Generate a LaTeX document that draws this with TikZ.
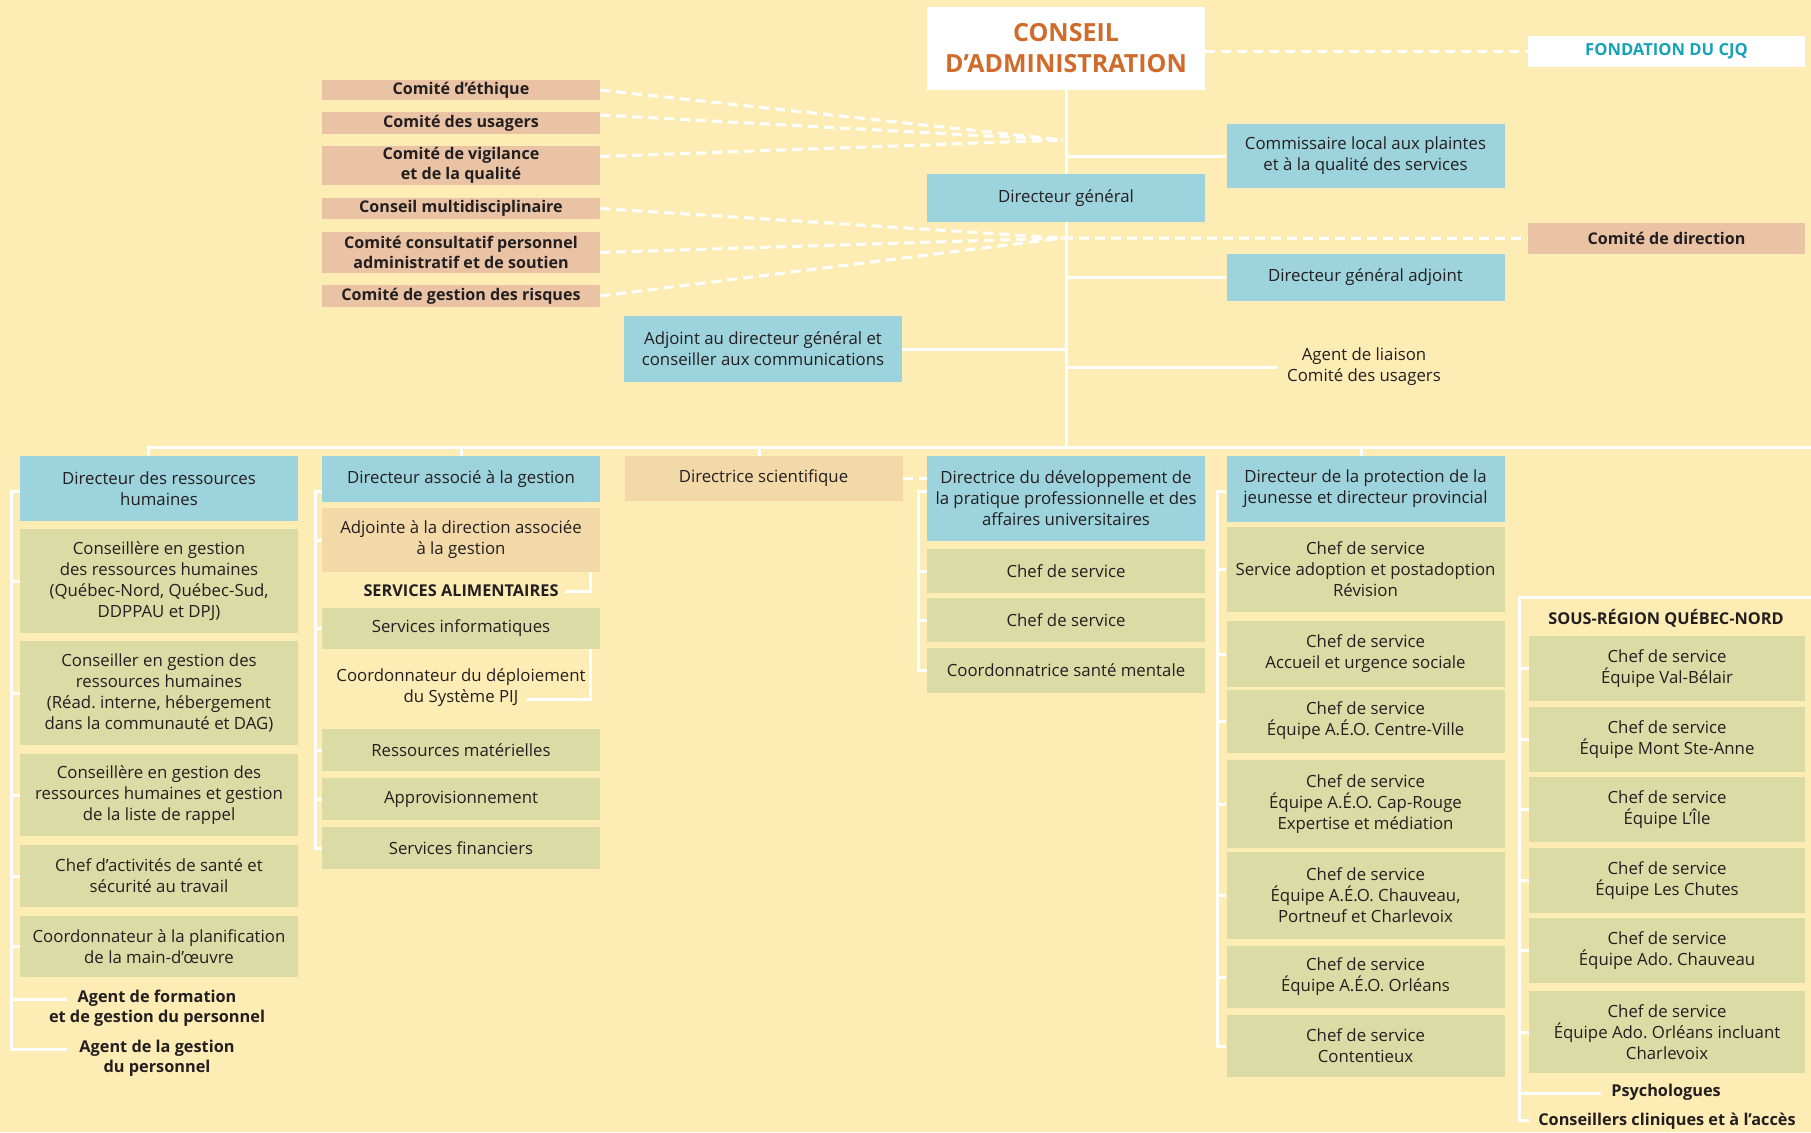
\documentclass[tikz,border=0pt]{standalone}
\usepackage{fontspec}
\setmainfont{Open Sans}
\frenchspacing
\pgfdeclarelayer{background layer}
\pgfsetlayers{background layer,main}
\definecolor{paper}{HTML}{FEECB5}
\definecolor{ink}{HTML}{231F20}
\definecolor{cjqblue}{HTML}{9DD3DC}
\definecolor{cjqgreen}{HTML}{DBDBA6}
\definecolor{cjqpink}{HTML}{E9C3A4}
\definecolor{cjqbeige}{HTML}{F3D9A7}
\definecolor{cjqorange}{HTML}{D06B2C}
\definecolor{cjqteal}{HTML}{17A2B8}
\tikzstyle{dirbox}=[rectangle,fill=cjqblue,inner sep=0pt,minimum width=278pt,align=center,text=ink,font=\fontsize{16.8}{21}\selectfont]
\tikzstyle{unitbox}=[dirbox,fill=cjqgreen]
\tikzstyle{assocbox}=[dirbox,fill=cjqbeige]
\tikzstyle{comitebox}=[dirbox,fill=cjqpink,font=\bfseries\fontsize{16.1}{19.5}\selectfont]
\tikzstyle{freetext}=[inner sep=0pt,align=center,text=ink,font=\fontsize{16.8}{21}\selectfont]
\tikzstyle{boldtext}=[freetext,font=\bfseries\fontsize{16.3}{20}\selectfont]
\tikzstyle{link}=[draw=white,line width=3pt]
\tikzstyle{dashlink}=[draw=white,line width=3pt,dash pattern=on 10pt off 6pt]

\begin{document}
\begin{tikzpicture}[x=1pt,y=-1pt]
	\useasboundingbox (0,0) rectangle (1811,1132);
	
	% top
	\node (ca) at (1066,48.5) [dirbox,fill=white,minimum height=83,text=cjqorange,font=\bfseries\fontsize{25}{31}\selectfont] {CONSEIL\\D’ADMINISTRATION};
	\node (fondation) at (1666.5,51.5) [dirbox,fill=white,minimum width=277pt,minimum height=31,text=cjqteal,font=\bfseries\fontsize{16.6}{20}\selectfont] {FONDATION DU CJQ};
	
	\node (ethique) at (461,90) [comitebox,minimum height=20] {Comité d’éthique};
	\node (usagers) at (461,123) [comitebox,minimum height=22] {Comité des usagers};
	\node (vigilance) at (461,165.5) [comitebox,minimum height=39] {Comité de vigilance\\et de la qualité};
	\node (multi) at (461,208.5) [comitebox,minimum height=21] {Conseil multidisciplinaire};
	\node (consult) at (461,252.5) [comitebox,minimum height=41] {Comité consultatif personnel\\administratif et de soutien};
	\node (risques) at (461,296) [comitebox,minimum height=22] {Comité de gestion des risques};
	
	\node (dg) at (1066,198) [dirbox,minimum height=48] {Directeur général};
	\node (commissaire) at (1365.5,156) [dirbox,minimum height=64] {Commissaire local aux plaintes\\et à la qualité des services};
	\node (direction) at (1666.5,238.5) [comitebox,minimum width=277pt,minimum height=31] {Comité de direction};
	\node (dga) at (1365.5,277.5) [dirbox,minimum height=47] {Directeur général adjoint};
	\node (liaison) at (1364,367) [freetext,inner xsep=10pt] {Agent de liaison\\Comité des usagers};
	\node (adjcom) at (763,349) [dirbox,minimum height=66] {Adjoint au directeur général et\\conseiller aux communications};
	
	\coordinate (hubA) at (1063,140);
	\coordinate (hubB) at (1063,238);
	\coordinate (busend) at (1811,447);
	
	% directions
	\node (rh) at (159,488.5) [dirbox,minimum height=65] {Directeur des ressources\\humaines};
	\node (assoc) at (461,479) [dirbox,minimum height=46] {Directeur associé à la gestion};
	\node (sci) at (763.5,478.5) [assocbox,minimum height=45] {Directrice scientifique};
	\node (dev) at (1066,498.5) [dirbox,minimum height=85] {Directrice du développement de\\la pratique professionnelle et des\\affaires universitaires};
	\node (dpj) at (1365.5,489) [dirbox,minimum height=66] {Directeur de la protection de la\\jeunesse et directeur provincial};
	
	% ressources humaines
	\coordinate (rhrail) at (11,491);
	\node (rh1) at (159,581) [unitbox,minimum height=104] {Conseillère en gestion\\des ressources humaines\\(Québec-Nord, Québec-Sud,\\DDPPAU et DPJ)};
	\node (rh2) at (159,693) [unitbox,minimum height=104] {Conseiller en gestion des\\ressources humaines\\(Réad. interne, hébergement\\dans la communauté et DAG)};
	\node (rh3) at (159,795) [unitbox,minimum height=82] {Conseillère en gestion des\\ressources humaines et gestion\\de la liste de rappel};
	\node (rh4) at (159,876) [unitbox,minimum height=62] {Chef d’activités de santé et\\sécurité au travail};
	\node (rh5) at (159,946.5) [unitbox,minimum height=61] {Coordonnateur à la planification\\de la main-d’œuvre};
	\node (agentA) at (157,1008) [boldtext] {Agent de formation\\et de gestion du personnel};
	\node (agentB) at (157,1058) [boldtext] {Agent de la gestion\\du personnel};
	\coordinate (agentAend) at (67,999);
	\coordinate (agentBend) at (67,1049);
	
	% gestion
	\coordinate (assocrail) at (315,491);
	\node (adjointe) at (461,540) [assocbox,minimum height=64] {Adjointe à la direction associée\\à la gestion};
	\node (alim) at (461,591) [boldtext,inner xsep=6pt] {SERVICES ALIMENTAIRES};
	\node (info) at (461,628.5) [unitbox,minimum height=41] {Services informatiques};
	\node (pij) at (461,688) [freetext] {Coordonnateur du déploiement\\du Système PIJ};
	\coordinate (pijend) at (527,699);
	\node (mat) at (461,750) [unitbox,minimum height=42] {Ressources matérielles};
	\node (appro) at (461,799) [unitbox,minimum height=42] {Approvisionnement};
	\node (fin) at (461,848) [unitbox,minimum height=42] {Services financiers};
	
	% developpement
	\coordinate (devrail) at (918,491);
	\node (dev1) at (1066,571) [unitbox,minimum height=44] {Chef de service};
	\node (dev2) at (1066,620) [unitbox,minimum height=44] {Chef de service};
	\node (dev3) at (1066,670.5) [unitbox,minimum height=45] {Coordonnatrice santé mentale};
	
	% protection de la jeunesse
	\coordinate (dpjrail) at (1217,491);
	\node (dpj1) at (1365.5,569.5) [unitbox,minimum height=85] {Chef de service\\Service adoption et postadoption\\Révision};
	\node (dpj2) at (1365.5,654) [unitbox,minimum height=66] {Chef de service\\Accueil et urgence sociale};
	\node (dpj3) at (1365.5,721) [unitbox,minimum height=63] {Chef de service\\Équipe A.É.O. Centre-Ville};
	\node (dpj4) at (1365.5,804) [unitbox,minimum height=88] {Chef de service\\Équipe A.É.O. Cap-Rouge\\Expertise et médiation};
	\node (dpj5) at (1365.5,895.5) [unitbox,minimum height=87] {Chef de service\\Équipe A.É.O. Chauveau,\\Portneuf et Charlevoix};
	\node (dpj6) at (1365.5,977) [unitbox,minimum height=62] {Chef de service\\Équipe A.É.O. Orléans};
	\node (dpj7) at (1365.5,1046) [unitbox,minimum height=62] {Chef de service\\Contentieux};
	
	% sous-region
	\coordinate (nordrail) at (1519,597);
	\coordinate (nordend) at (1811,597);
	\node (nordtitle) at (1666,618) [boldtext] {SOUS-RÉGION QUÉBEC-NORD};
	\node (nord1) at (1667,668.5) [unitbox,minimum width=276pt,minimum height=65] {Chef de service\\Équipe Val-Bélair};
	\node (nord2) at (1667,739.5) [unitbox,minimum width=276pt,minimum height=65] {Chef de service\\Équipe Mont Ste-Anne};
	\node (nord3) at (1667,809.5) [unitbox,minimum width=276pt,minimum height=65] {Chef de service\\Équipe L’Île};
	\node (nord4) at (1667,880.5) [unitbox,minimum width=276pt,minimum height=65] {Chef de service\\Équipe Les Chutes};
	\node (nord5) at (1667,950.5) [unitbox,minimum width=276pt,minimum height=65] {Chef de service\\Équipe Ado. Chauveau};
	\node (nord6) at (1667,1032) [unitbox,minimum width=276pt,minimum height=82] {Chef de service\\Équipe Ado. Orléans incluant\\Charlevoix};
	\node (psy) at (1666,1092) [boldtext] {Psychologues};
	\node (conscli) at (1667,1121) [boldtext] {Conseillers cliniques et à l’accès};
	\coordinate (psyend) at (1601,1093);
	\coordinate (consend) at (1529,1120);
	
	\begin{pgfonlayer}{background layer}
		\fill[paper] (0,0) rectangle (1811,1132);
		
		\draw[link] (ca.south) -- (ca.south |- busend);
		\draw[link] ([xshift=-11pt]rh.north) |- (busend);
		\draw[link] (assoc.north) -- (assoc.north |- busend);
		\draw[link] ([xshift=-4pt]sci.north) -- ([xshift=-4pt]sci.north |- busend);
		\draw[link] ([xshift=-4pt]dpj.north) -- ([xshift=-4pt]dpj.north |- busend);
		
		\draw[link] (commissaire.west) -- (commissaire.west -| ca.south);
		\draw[link] (dga.west) -- (dga.west -| ca.south);
		\draw[link] (liaison.west) -- (liaison.west -| ca.south);
		\draw[link] (adjcom.east) -- (adjcom.east -| ca.south);
		
		\draw[dashlink] (fondation.west -| ca.east) -- (fondation.west);
		\draw[dashlink] (ethique.east) -- (hubA);
		\draw[dashlink] ([yshift=8pt]usagers.east) -- (hubA);
		\draw[dashlink] ([yshift=9pt]vigilance.east) -- (hubA);
		\draw[dashlink] (multi.east) -- (hubB);
		\draw[dashlink] (consult.east) -- (hubB);
		\draw[dashlink] (risques.east) -- (hubB);
		\draw[dashlink] (hubB) -- (direction.west);
		\draw[dashlink] (sci.east) -- (sci.east -| dev.west);
		
		\draw[link] (rh.west |- rhrail) -- (rhrail) |- (agentBend);
		\draw[link] (rh1.west) -- (rh1.west -| rhrail);
		\draw[link] (rh2.west) -- (rh2.west -| rhrail);
		\draw[link] (rh3.west) -- (rh3.west -| rhrail);
		\draw[link] (rh4.west) -- (rh4.west -| rhrail);
		\draw[link] (rh5.west) -- (rh5.west -| rhrail);
		\draw[link] (agentAend) -- (agentAend -| rhrail);
		
		\draw[link] (assoc.west |- assocrail) -- (assocrail) |- (fin.west);
		\draw[link] (adjointe.west) -- (adjointe.west -| assocrail);
		\draw[link] (info.west) -- (info.west -| assocrail);
		\draw[link] (mat.west) -- (mat.west -| assocrail);
		\draw[link] (appro.west) -- (appro.west -| assocrail);
		\draw[link] (alim.east) -| ([xshift=-10pt]adjointe.south east);
		\draw[link] (pijend) -| ([xshift=-10pt]info.south east);
		
		\draw[link] (dev.west |- devrail) -- (devrail) |- (dev3.west);
		\draw[link] (dev1.west) -- (dev1.west -| devrail);
		\draw[link] (dev2.west) -- (dev2.west -| devrail);
		
		\draw[link] (dpj.west |- dpjrail) -- (dpjrail) |- (dpj7.west);
		\draw[link] (dpj1.west) -- (dpj1.west -| dpjrail);
		\draw[link] (dpj2.west) -- (dpj2.west -| dpjrail);
		\draw[link] (dpj3.west) -- (dpj3.west -| dpjrail);
		\draw[link] (dpj4.west) -- (dpj4.west -| dpjrail);
		\draw[link] (dpj5.west) -- (dpj5.west -| dpjrail);
		\draw[link] (dpj6.west) -- (dpj6.west -| dpjrail);
		
		\draw[link] (nordend) -- (nordrail) |- (consend);
		\draw[link] (nord1.west) -- (nord1.west -| nordrail);
		\draw[link] (nord2.west) -- (nord2.west -| nordrail);
		\draw[link] (nord3.west) -- (nord3.west -| nordrail);
		\draw[link] (nord4.west) -- (nord4.west -| nordrail);
		\draw[link] (nord5.west) -- (nord5.west -| nordrail);
		\draw[link] (nord6.west) -- (nord6.west -| nordrail);
		\draw[link] (psyend) -- (psyend -| nordrail);
	\end{pgfonlayer}
\end{tikzpicture}
\end{document}
